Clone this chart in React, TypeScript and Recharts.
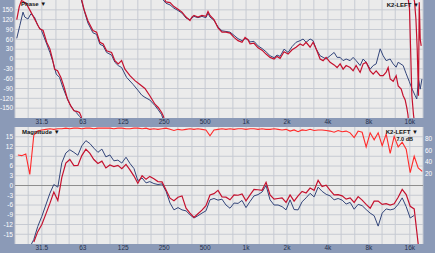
import React from "react";
import { LineChart, Line, XAxis, YAxis, CartesianGrid, ReferenceLine } from "recharts";

// frequency grid shared by the magnitude + coherence traces (Hz)
const FREQ = [
  21.0, 22.4, 24.0, 25.7, 27.5, 29.4, 31.5, 33.7, 36.1, 38.6, 41.3, 44.2, 47.3, 50.6, 54.2, 58.0,
  62.0, 66.4, 71.1, 76.0, 81.4, 87.1, 93.2, 99.7, 106.7, 114.2, 122, 131, 140, 150, 160, 172,
  184, 196, 210, 225, 241, 258, 276, 295, 316, 338, 362, 387, 414, 443, 474, 507,
  543, 581, 622, 665, 712, 762, 816, 873, 934, 999, 1070, 1144, 1225, 1311, 1403, 1501,
  1607, 1719, 1840, 1969, 2107, 2255, 2413, 2582, 2763, 2957, 3165, 3387, 3624, 3878, 4151, 4441,
  4753, 5087, 5444, 5825, 6234, 6670, 7138, 7639, 8177, 8749, 9362, 10020, 10723, 11475, 12276, 13139,
  14062, 15048, 16105, 17231, 18440, 19730,
];

// magnitude, dB (red = K2-LEFT, blue = reference trace)
const MAG_K2 = [
  null, null, null, null, -17.4, -14.2, -12, -8.8, -5.5, -2, -4.6, 2.5, 6.9, 8, 6.1, 6.2,
  9.2, 11.2, 9.9, 8, 6.8, 7.5, 5.4, 6.3, 5.8, 6.2, 5.2, 6.5, 4.8, 2.9, 0.7, 3,
  1.9, 2.8, 2.1, 1.2, 1.1, -1.4, -3.9, -4.7, -3.6, -3.2, -7, -8.5, -9.8, -8.7, -7.6, -6.2,
  -2.9, -2.5, -1.5, -3.5, -3.6, -4.4, -2.9, -3, -2.6, -4.7, -2.9, -1.2, -1.3, -1.5, 1, -2.9,
  -4.2, -4, -3.8, -5.2, -2.9, -4.8, -3.2, -1.8, -2.3, -0.8, -1.5, 1.6, -0.3, 0.1, -1.5, -2.9,
  -2.8, -3.2, -4.2, -3.8, -5.2, -3.4, -4.5, -5.8, -7, -4.8, -4.8, -5.8, -5.6, -6, -5.6, -3.6,
  -1.2, -2.8, -6.4, -7.2, -18, null,
];
const MAG_REF = [
  null, null, null, -19, -16.6, -12.6, -9.5, -6, -2.4, 0.3, -0.5, 7, 10, 11, 10.2, 9.3,
  12.2, 13.8, 12.9, 11.5, 10.2, 11.2, 8.8, 9.4, 7.6, 7.8, 6.9, 8.7, 6.8, 5.2, 1.5, 2.3,
  0.8, 1.2, 0.6, 0.3, 0.5, -1.8, -5.4, -7.5, -6.8, -7.5, -7.8, -9, -10, -9.3, -8.5, -7.8,
  -4.4, -4, -4.5, -4.2, -6, -7, -5.4, -5.5, -4.6, -6.8, -4.9, -3.2, -2.8, -2, 0, -4.4,
  -6, -6, -6.5, -7.5, -4.4, -7.4, -7.5, -5, -3.8, -2.4, -3.5, -0.5, -1.8, -2.7, -3.2, -4.4,
  -4, -4.5, -5.7, -5.2, -7.3, -5.8, -6.2, -7.4, -8.5, -9.3, -12.5, -8.5, -7.2, -7.5, -7.2, -5.8,
  -3.8, -6.5, -10, -9.2, null, null,
];
// coherence, % (right axis)
const COHERENCE = [
  52, 51, 54, 19, 86, 93, 95, 96, 97, 96, 97, 97, 98, 97, 98, 98,
  97, 98, 98, 97, 98, 98, 98, 98, 97, 98, 98, 97, 97, 98, 98, 97,
  98, 96, 97, 96, 97, 98, 96, 94, 96, 95, 96, 97, 96, 97, 96, 95,
  85, 95, 96, 97, 96, 97, 96, 97, 97, 96, 97, 97, 96, 97, 96, 96,
  97, 96, 95, 96, 93, 95, 92, 95, 94, 96, 94, 95, 95, 94, 93, 91,
  94, 92, 93, 90, 82, 93, 91, 66, 90, 78, 90, 68, 88, 55, 84, 66,
  74, 62, 22, 50, 30, 24,
];

// phase, degrees (wrapped), [Hz, deg]; null = break at a wrap
const PHASE_K2: [number, number | null][] = [
  [20.6, 120], [21.5, 160], [22.3, 178], [22.9, 176], [24.3, 168], [26.2, 143], [28.7, 112], [30.4, 92],
  [32.2, 87], [34.2, 51], [36.1, 31], [37.7, 0], [39.1, -31], [41.1, -36], [43.5, -56], [46.0, -87],
  [48.6, -122], [51.4, -143], [54.3, -158], [57.0, -160], [59.6, -163], [61.3, -175], [61.7, -180], [61.8, null],
  [61.9, 180], [64.5, 150], [68.7, 117], [74.8, 87], [79.6, 82], [84.2, 51], [89.0, 46], [94.3, 25],
  [102.6, 20], [108.5, -5], [114.8, -15], [121.6, -5], [128.6, -31], [140, -51], [152.4, -66], [165.8, -78],
  [180.5, -90], [196, -112], [213.8, -138], [226, -148], [239.5, -163], [247, -175], [249, -180], [250, null],
  [253, 180], [258, 174], [276, 172], [295, 160], [316, 152], [338, 143], [362, 128], [387, 117],
  [400, 128], [414, 133], [443, 128], [474, 133], [507, 130], [525, 145], [543, 133], [581, 120],
  [622, 95], [665, 82], [712, 82], [762, 79], [816, 66], [873, 56], [934, 51], [983, 66],
  [1034, 58], [1070, 46], [1144, 48], [1225, 34], [1311, 27], [1403, 15], [1501, 5], [1607, 0],
  [1690, 8], [1779, 2], [1903, 22], [2037, 15], [2180, 28], [2332, 36], [2496, 46], [2626, 41],
  [2763, 51], [2957, 36], [3111, 51], [3273, 31], [3503, 0], [3686, -5], [3878, 5], [4151, -10],
  [4441, -18], [4672, -26], [4917, -15], [5172, -31], [5444, -20], [5825, -26], [6127, -36], [6445, -20],
  [6898, -41], [7258, -15], [7639, -10], [8177, -36], [8603, -46], [9047, -36], [9683, -51], [10187, -51],
  [10723, -40], [11091, -26], [11475, -61], [12071, -68], [12698, -51], [13139, -82], [13826, -92], [14298, -112],
  [14790, -125], [15220, -150], [15500, -170], [15580, -180], [15590, null], [15600, 180], [15910, 153], [16570, -112],
  [17030, -170], [17150, -180], [17160, null], [17200, 180], [17320, 176], [17740, 122], [18130, 31], [18530, -112],
  [18760, 173], [19080, 60], [19400, 40],
];
const PHASE_REF: [number, number | null][] = [
  [20.6, 63], [21.7, 102], [22.9, 143], [23.6, 128], [24.9, 122], [26.2, 138], [27.8, 128], [29.4, 102],
  [31.3, 87], [34.2, 46], [36.1, 20], [38.1, -10], [40.2, -46], [42.5, -56], [45.0, -87], [47.5, -112],
  [50.6, -138], [53.4, -153], [56.4, -163], [59.6, -175], [61.0, -180], [61.1, null],
  [61.5, 180], [64.5, 148], [68.7, 110], [74.8, 80], [79.6, 75], [84.2, 45], [89.0, 40], [94.3, 20],
  [102.6, 12], [108.5, -10], [114.8, -20], [121.6, -26], [132.3, -56], [147.3, -77], [160, -95], [170.7, -110],
  [180.5, -117], [196, -125], [213.8, -142], [226, -155], [239.5, -170], [244, -180], [244.5, null],
  [246, 180], [258, 170], [276, 165], [295, 155], [316, 148], [338, 140], [362, 125], [387, 120],
  [414, 130], [443, 126], [474, 130], [507, 126], [525, 140], [543, 128], [581, 118], [622, 98],
  [665, 86], [712, 84], [762, 82], [816, 72], [873, 62], [934, 56], [983, 62], [1034, 60],
  [1070, 52], [1144, 54], [1225, 40], [1311, 32], [1403, 22], [1501, 10], [1607, 4], [1690, 12],
  [1779, 8], [1903, 30], [2037, 20], [2180, 38], [2332, 51], [2496, 56], [2626, 61], [2763, 51],
  [2957, 61], [3111, 56], [3273, 31], [3503, 10], [3686, 5], [3878, 0], [4151, 10], [4441, 20],
  [4672, 5], [4917, 5], [5172, -5], [5444, 0], [5825, -5], [6127, 5], [6445, -5], [6898, -20],
  [7258, 0], [7639, -10], [8177, -31], [8603, -20], [9047, -15], [9683, 31], [10187, 10], [10723, -5],
  [11475, 0], [12071, -15], [12698, -25], [13139, -10], [14298, -20], [15048, -45], [15829, -68], [16650, -92],
  [17527, -112], [18000, -122], [18530, -61], [19080, -92], [19640, -61],
];

const OCTAVE_TICKS = [31.5, 63, 125, 250, 500, 1000, 2000, 4000, 8000, 16000];
const OCTAVE_LABELS = ["31.5", "63", "125", "250", "500", "1k", "2k", "4k", "8k", "16k"];
const THIRD_OCTAVE = [
  20, 25, 31.5, 40, 50, 63, 80, 100, 125, 160, 200, 250, 315, 400, 500, 630, 800, 1000, 1250,
  1600, 2000, 2500, 3150, 4000, 5000, 6300, 8000, 10000, 12500, 16000, 20000,
];
const PHASE_TICKS = [-150, -120, -90, -60, -30, 0, 30, 60, 90, 120, 150];
const DB_TICKS = [-15, -12, -9, -6, -3, 0, 3, 6, 9, 12, 15];
const COH_TICKS = [20, 40, 60, 80];

const FRAME = "#8b9ab7";
const PLOT_BG = "#ebebeb";
const GRID = "#c6cad2";
const RED = "#c5112e";
const BLUE = "#33457a";
const COH = "#ff2b2b";
const FONT = "'Liberation Sans', Arial, sans-serif";

const fmtFreq = (v: number) => {
  const i = OCTAVE_TICKS.indexOf(v);
  return i >= 0 ? OCTAVE_LABELS[i] : String(v);
};

const xTick = { fontSize: 6.5, fill: "#24304c", fontFamily: FONT };
const yTick = { fontSize: 6.5, fill: "#ffffff", fontFamily: FONT };

export default function App() {
  const phaseK2 = PHASE_K2.map(([f, v]) => ({ f, v }));
  const phaseRef = PHASE_REF.map(([f, v]) => ({ f, v }));
  const magData = FREQ.map((f, i) => ({ f, k2: MAG_K2[i], ref: MAG_REF[i], coh: COHERENCE[i] }));

  return (
    <div
      style={{
        position: "absolute",
        left: 0,
        top: 0,
        width: 435,
        height: 253,
        background: FRAME,
        overflow: "hidden",
      }}
    >
      {/* phase */}
      <div style={{ position: "absolute", left: 0, top: 0 }}>
        <LineChart width={435} height={126} margin={{ top: 0, right: 12, bottom: 0, left: 0 }}>
          <CartesianGrid fill={PLOT_BG} stroke={GRID} verticalValues={THIRD_OCTAVE} horizontalValues={PHASE_TICKS} />
          <XAxis
            dataKey="f"
            type="number"
            scale="log"
            domain={[20, 20000]}
            allowDataOverflow
            ticks={OCTAVE_TICKS}
            tickFormatter={fmtFreq}
            interval={0}
            height={8}
            axisLine={false}
            tickLine={false}
            tickSize={0}
            tickMargin={1}
            tick={xTick}
          />
          <YAxis
            type="number"
            domain={[-180, 180]}
            allowDataOverflow
            ticks={PHASE_TICKS}
            interval={0}
            width={15}
            axisLine={false}
            tickLine={false}
            tickSize={0}
            tickMargin={2}
            tick={yTick}
          />
          <Line data={phaseRef} dataKey="v" type="linear" stroke={BLUE} strokeWidth={1} dot={false} isAnimationActive={false} />
          <Line data={phaseK2} dataKey="v" type="linear" stroke={RED} strokeWidth={1.2} dot={false} isAnimationActive={false} />
        </LineChart>
      </div>

      {/* magnitude + coherence */}
      <div style={{ position: "absolute", left: 0, top: 126 }}>
        <LineChart width={435} height={127} data={magData} margin={{ top: 1, right: 0, bottom: 0, left: 0 }}>
          <CartesianGrid
            yAxisId="db"
            fill={PLOT_BG}
            stroke={GRID}
            verticalValues={THIRD_OCTAVE}
            horizontalValues={DB_TICKS}
          />
          <XAxis
            dataKey="f"
            type="number"
            scale="log"
            domain={[20, 20000]}
            allowDataOverflow
            ticks={OCTAVE_TICKS}
            tickFormatter={fmtFreq}
            interval={0}
            height={9}
            axisLine={false}
            tickLine={false}
            tickSize={0}
            tickMargin={1}
            tick={xTick}
          />
          <YAxis
            yAxisId="db"
            type="number"
            domain={[-18, 18]}
            allowDataOverflow
            ticks={DB_TICKS}
            interval={0}
            width={15}
            axisLine={false}
            tickLine={false}
            tickSize={0}
            tickMargin={2}
            tick={yTick}
          />
          <YAxis
            yAxisId="coh"
            orientation="right"
            type="number"
            domain={[-100, 100]}
            allowDataOverflow
            ticks={COH_TICKS}
            interval={0}
            width={12}
            axisLine={false}
            tickLine={false}
            tickSize={0}
            tickMargin={2}
            tick={yTick}
          />
          <ReferenceLine yAxisId="db" y={0} stroke="#8e8e8e" />
          <Line yAxisId="coh" dataKey="coh" type="linear" stroke={COH} strokeWidth={1.1} dot={false} isAnimationActive={false} />
          <Line yAxisId="db" dataKey="ref" type="linear" stroke={BLUE} strokeWidth={1} dot={false} isAnimationActive={false} />
          <Line yAxisId="db" dataKey="k2" type="linear" stroke={RED} strokeWidth={1.2} dot={false} isAnimationActive={false} />
        </LineChart>
      </div>

      {/* panel titles */}
      <svg
        width={435}
        height={253}
        style={{ position: "absolute", left: 0, top: 0, pointerEvents: "none" }}
        fontFamily={FONT}
        fontWeight="bold"
        fill="#111"
      >
        <text x={21} y={5.5} fontSize={6}>Phase ▼</text>
        <text x={419} y={6.5} fontSize={6} textAnchor="end">K2-LEFT ▼</text>
        <text x={22} y={133.5} fontSize={6}>Magnitude ▼</text>
        <text x={418} y={133.5} fontSize={6} textAnchor="end">K2-LEFT ▼</text>
        <text x={413} y={140.5} fontSize={5.5} textAnchor="end">7.0 dB</text>
      </svg>
    </div>
  );
}
